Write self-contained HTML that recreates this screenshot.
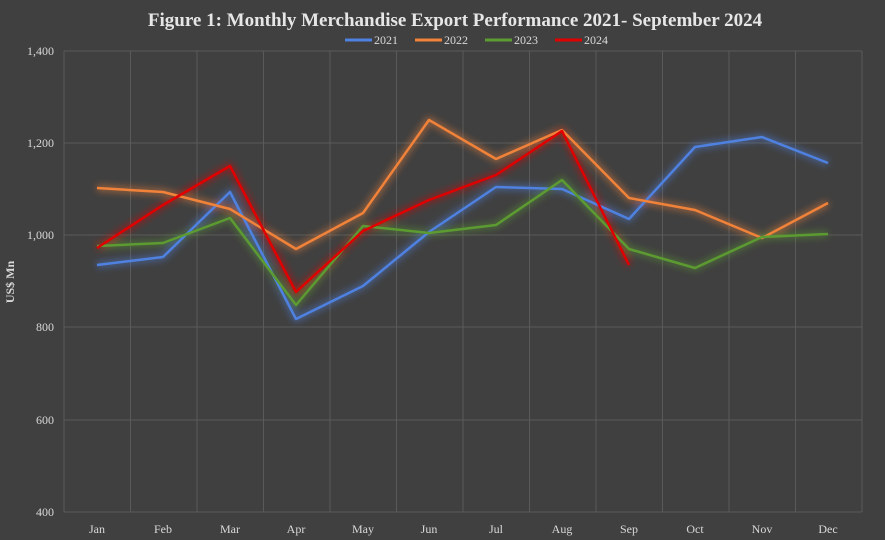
<!DOCTYPE html>
<html><head><style>
body{margin:0;background:#404040;}
svg{display:block;font-family:"Liberation Serif",serif;}
</style></head><body>
<svg width="885" height="540" viewBox="0 0 885 540">
<defs><filter id="g" x="-10%" y="-10%" width="120%" height="120%"><feGaussianBlur stdDeviation="3.5"/></filter></defs>
<rect width="885" height="540" fill="#404040"/>
<text x="455" y="26" text-anchor="middle" fill="#e6e6e6" font-size="19" font-weight="bold">Figure 1: Monthly Merchandise Export Performance 2021- September 2024</text>
<g font-size="12" fill="#d9d9d9">
<line x1="345" y1="40" x2="372" y2="40" stroke="#4f81e0" stroke-width="3"/><text x="374" y="44">2021</text>
<line x1="415" y1="40" x2="442" y2="40" stroke="#f0823a" stroke-width="3"/><text x="444" y="44">2022</text>
<line x1="485" y1="40" x2="512" y2="40" stroke="#5c9a32" stroke-width="3"/><text x="514" y="44">2023</text>
<line x1="555" y1="40" x2="582" y2="40" stroke="#e00000" stroke-width="3"/><text x="584" y="44">2024</text>
</g>
<g stroke="#5a5a5a" stroke-width="1">
<line x1="64" y1="51" x2="862" y2="51"/><line x1="64" y1="143" x2="862" y2="143"/><line x1="64" y1="235" x2="862" y2="235"/><line x1="64" y1="327" x2="862" y2="327"/><line x1="64" y1="420" x2="862" y2="420"/><line x1="64" y1="512" x2="862" y2="512"/>
<line x1="64" y1="51" x2="64" y2="512"/><line x1="130.5" y1="51" x2="130.5" y2="512"/><line x1="197" y1="51" x2="197" y2="512"/><line x1="263.5" y1="51" x2="263.5" y2="512"/><line x1="330" y1="51" x2="330" y2="512"/><line x1="396.5" y1="51" x2="396.5" y2="512"/><line x1="463" y1="51" x2="463" y2="512"/><line x1="529.5" y1="51" x2="529.5" y2="512"/><line x1="596" y1="51" x2="596" y2="512"/><line x1="662.5" y1="51" x2="662.5" y2="512"/><line x1="729" y1="51" x2="729" y2="512"/><line x1="795.5" y1="51" x2="795.5" y2="512"/><line x1="862" y1="51" x2="862" y2="512"/>
</g>
<g font-size="12" fill="#d9d9d9" text-anchor="end">
<text x="54" y="55">1,400</text><text x="54" y="147">1,200</text><text x="54" y="239">1,000</text><text x="54" y="331">800</text><text x="54" y="424">600</text><text x="54" y="516">400</text>
</g>
<text transform="translate(14,282) rotate(-90)" text-anchor="middle" font-size="12" font-weight="bold" fill="#d9d9d9">US$ Mn</text>
<g font-size="12" fill="#d9d9d9" text-anchor="middle">
<text x="97" y="533">Jan</text><text x="163" y="533">Feb</text><text x="230" y="533">Mar</text><text x="296" y="533">Apr</text><text x="363" y="533">May</text><text x="429" y="533">Jun</text><text x="496" y="533">Jul</text><text x="562" y="533">Aug</text><text x="629" y="533">Sep</text><text x="695" y="533">Oct</text><text x="762" y="533">Nov</text><text x="828" y="533">Dec</text>
</g>
<g fill="none" stroke-width="7" stroke-linejoin="round" opacity="0.45" filter="url(#g)">
<polyline stroke="#4f81e0" points="97,265 163,257 230,192 296,319 363,286 429,232 496,187 562,189 629,219 695,147 762,137 828,163"/>
<polyline stroke="#f0823a" points="97,188 163,192 230,209 296,249 363,213 429,120 496,159 562,130 629,198 695,210 762,238 828,203"/>
<polyline stroke="#5c9a32" points="97,246 163,243 230,218 296,305 363,226 429,233 496,225 562,180 629,249 695,268 762,237 828,234"/>
<polyline stroke="#e00000" points="97,248 163,205 230,166 296,292 363,231 429,200 496,175 562,131 629,265"/>
</g>
<g fill="none" stroke-width="2.5" stroke-linejoin="round">
<polyline stroke="#4f81e0" points="97,265 163,257 230,192 296,319 363,286 429,232 496,187 562,189 629,219 695,147 762,137 828,163"/>
<polyline stroke="#f0823a" points="97,188 163,192 230,209 296,249 363,213 429,120 496,159 562,130 629,198 695,210 762,238 828,203"/>
<polyline stroke="#5c9a32" points="97,246 163,243 230,218 296,305 363,226 429,233 496,225 562,180 629,249 695,268 762,237 828,234"/>
<polyline stroke="#e00000" points="97,248 163,205 230,166 296,292 363,231 429,200 496,175 562,131 629,265"/>
</g>
</svg>
</body></html>
